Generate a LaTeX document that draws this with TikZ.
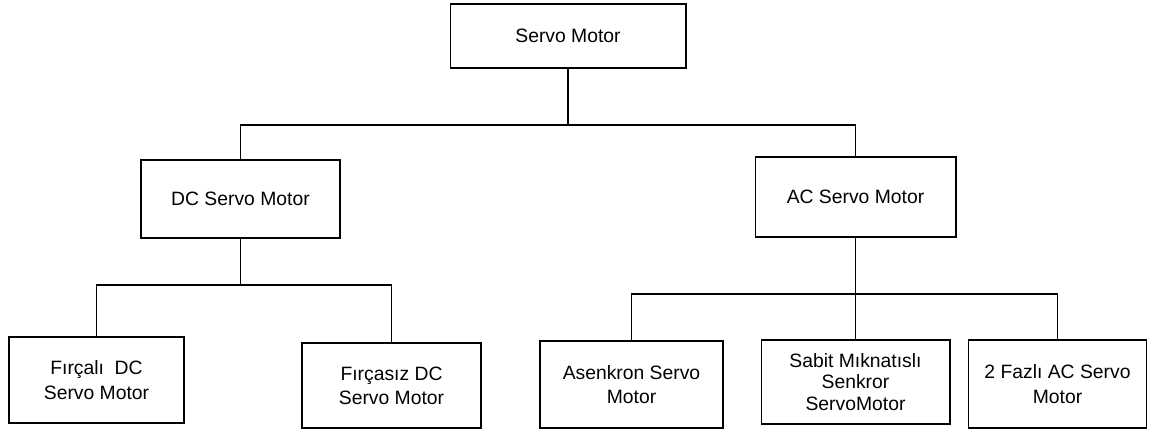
\documentclass[tikz,border=0pt]{standalone}
\usepackage{fontspec}
\setmainfont{Liberation Sans}

\begin{document}
\begin{tikzpicture}[x=0.02cm, y=-0.02cm, line width=0.6pt,
    kutu/.style={draw, rectangle, align=center, inner sep=2pt,
        font=\fontsize{11}{13.8}\selectfont}]

    \useasboundingbox (0,0) rectangle (1149,430);

    % kutular: merkez koordinatlari piksel cinsinden
    \node[kutu, minimum width=4.72cm, minimum height=1.28cm] (servo) at (568,36) {Servo Motor};
    \node[kutu, minimum width=3.98cm, minimum height=1.56cm] (dc) at (240.5,199) {DC Servo Motor};
    \node[kutu, minimum width=4.02cm, minimum height=1.60cm] (ac) at (855.5,197) {AC Servo Motor};
    \node[kutu, minimum width=3.50cm, minimum height=1.72cm] (fircali) at (96.5,380) {Fırçalı~~DC\\Servo Motor};
    \node[kutu, minimum width=3.58cm, minimum height=1.70cm] (fircasiz) at (391.5,385.5) {Fırçasız DC\\Servo Motor};
    \node[kutu, minimum width=3.66cm, minimum height=1.74cm] (asenkron) at (631.5,384.5) {Asenkron Servo\\Motor};
    \node[kutu, minimum width=3.78cm, minimum height=1.68cm, font=\fontsize{11}{12.4}\selectfont] (sabit) at (855.5,382) {Sabit Mıknatıslı\\Senkror\\ServoMotor};
    \node[kutu, minimum width=3.56cm, minimum height=1.76cm] (ikifazli) at (1057.5,384) {2 Fazlı AC Servo\\Motor};

    \coordinate (kol) at (568,125);
    \coordinate (dckol) at (240.5,285);
    \coordinate (ackol) at (855.5,294);

    \draw (servo.south) -- (kol);
    \draw (dc.north) |- (kol) -| (ac.north);
    \draw (dc.south) -- (dckol);
    \draw (fircali.north) |- (dckol) -| (fircasiz.north);
    \draw (ac.south) -- (ackol);
    \draw (asenkron.north) |- (ackol) -| (ikifazli.north);
    \draw (ackol) -- (sabit.north);

\end{tikzpicture}
\end{document}
